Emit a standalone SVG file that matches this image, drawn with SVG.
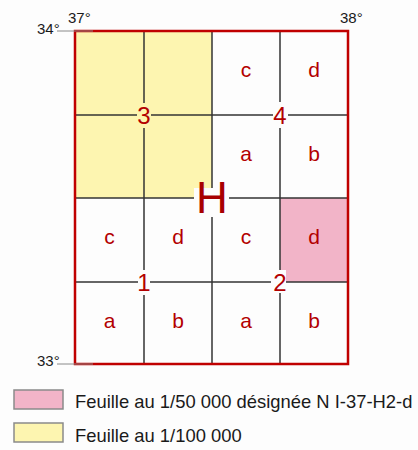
<svg xmlns="http://www.w3.org/2000/svg" width="418" height="450" viewBox="0 0 418 450">
<style>
.grid{stroke:#333;stroke-width:1.5;fill:none}
.tick{stroke:#8a8a8a;stroke-width:1}
.coord{font-family:"Liberation Sans",Arial,sans-serif;font-size:15px;fill:#1a1a1a}
.cell{font-family:"Liberation Sans",Arial,sans-serif;font-size:21px;fill:#b30000;text-anchor:middle}
.num{font-family:"Liberation Sans",Arial,sans-serif;font-size:24px;fill:#b30000;text-anchor:middle}
.big{font-family:"Liberation Sans",Arial,sans-serif;font-size:44px;fill:#a80000;text-anchor:middle}
.leg{font-family:"Liberation Sans",Arial,sans-serif;font-size:18.4px;fill:#1a1a1a}
.legbox{stroke:#8a8a8a;stroke-width:1.5}
</style>
<rect width="418" height="450" fill="#fdfdfd"/>
<g id="fills">
<rect x="75" y="31" width="137" height="167" fill="#fdf5b0"/>
<rect x="280" y="198" width="68" height="84" fill="#f2b4c8"/>
</g>
<g id="connectors">
<line class="grid" x1="144" y1="31" x2="144" y2="364"/>
<line class="grid" x1="212" y1="31" x2="212" y2="364"/>
<line class="grid" x1="280" y1="31" x2="280" y2="364"/>
<line class="grid" x1="75" y1="115" x2="348" y2="115"/>
<line class="grid" x1="75" y1="198" x2="348" y2="198"/>
<line class="grid" x1="75" y1="282" x2="348" y2="282"/>
</g>
<g id="frame">
<rect x="75" y="31" width="273" height="333" fill="none" stroke="#c00000" stroke-width="2.5"/>
<line class="tick" x1="57" y1="31" x2="93" y2="31"/>
<line class="tick" x1="57" y1="364" x2="93" y2="364"/>
</g>
<g id="gaps">
<rect x="137" y="103" width="14" height="25" fill="#fdf5b0"/>
<rect x="273" y="102" width="15" height="26" fill="#fdfdfd"/>
<rect x="138" y="270" width="12" height="25" fill="#fdfdfd"/>
<rect x="271" y="270" width="15" height="23" fill="#fdfdfd"/>
<rect x="194" y="188" width="35" height="29" fill="#fdfdfd"/>
</g>
<g id="coords">
<text class="coord" x="37" y="34">34°</text>
<text class="coord" x="68" y="23">37°</text>
<text class="coord" x="340" y="23">38°</text>
<text class="coord" x="37" y="366">33°</text>
</g>
<g id="sheet-4">
<text class="cell" x="246" y="77">c</text>
<text class="cell" x="314" y="77">d</text>
<text class="cell" x="246" y="160.5">a</text>
<text class="cell" x="314" y="160.5">b</text>
<text class="num" x="280" y="124">4</text>
</g>
<g id="sheet-3">
<text class="num" x="144" y="124">3</text>
</g>
<g id="sheet-1">
<text class="cell" x="109.5" y="244">c</text>
<text class="cell" x="178" y="244">d</text>
<text class="cell" x="109.5" y="327.5">a</text>
<text class="cell" x="178" y="327.5">b</text>
<text class="num" x="144" y="290.5">1</text>
</g>
<g id="sheet-2">
<text class="cell" x="246" y="244">c</text>
<text class="cell" x="314" y="244">d</text>
<text class="cell" x="246" y="327.5">a</text>
<text class="cell" x="314" y="327.5">b</text>
<text class="num" x="280" y="290.5">2</text>
</g>
<g id="sheet-H">
<text class="big" x="212" y="213">H</text>
</g>
<g id="legend">
<rect class="legbox" x="14" y="390" width="49" height="19" fill="#f2b4c8"/>
<text class="leg" x="75" y="408">Feuille au 1/50 000 désignée N I-37-H2-d</text>
<rect class="legbox" x="14" y="423" width="49" height="19" fill="#fdf5b0"/>
<text class="leg" x="75" y="442">Feuille au 1/100 000</text>
</g>
</svg>
